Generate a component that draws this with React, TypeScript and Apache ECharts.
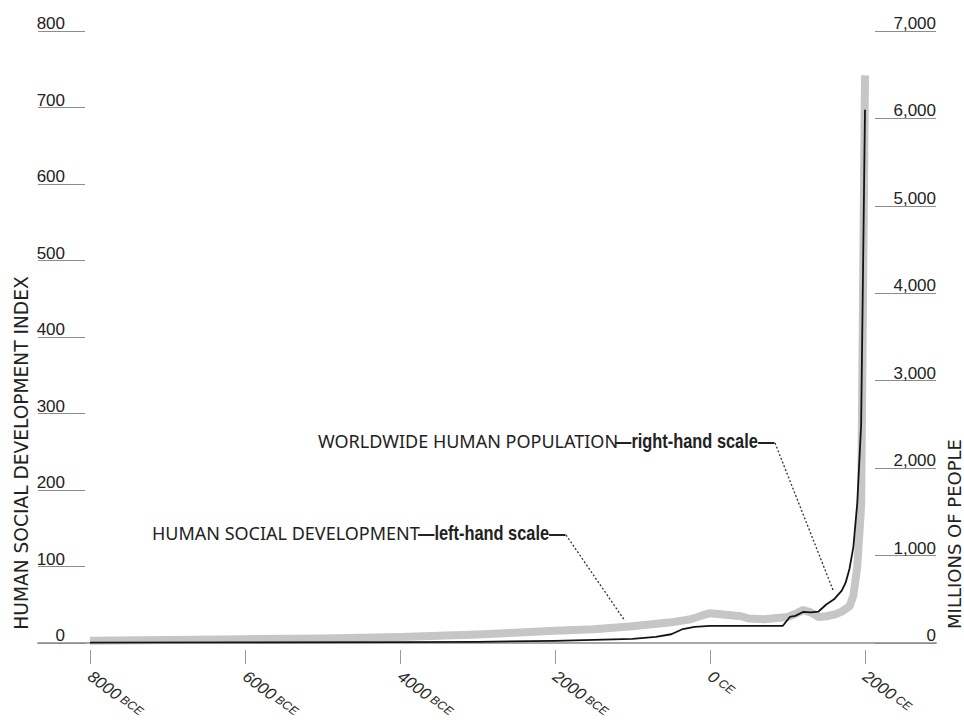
import React, { useEffect, useRef } from "react";
import * as echarts from "echarts";

// X axis: years (negative = BCE)
const xTickYears = [-8000, -6000, -4000, -2000, 0, 2000];
const xAxisMin = -8671;
const xAxisMax = 2916;

// Human social development index (left-hand scale)
const sdYears = [-8000, -7000, -6000, -5000, -4000, -3000, -2000, -1500, -1000, -500, -250, -100, 0, 100, 200, 400, 500, 700, 900, 1000, 1100, 1200, 1300, 1400, 1500, 1600, 1700, 1800, 1850, 1900, 1950, 2000];
const sdValues = [3, 4, 5, 6, 8, 11, 16, 18, 22, 27, 31, 36, 39, 38, 37, 35, 32, 31, 33, 34, 38, 43, 40, 34, 35, 37, 41, 48, 62, 100, 180, 742];

// Worldwide human population, millions (right-hand scale)
const popYears = [-8000, -6000, -4000, -3000, -2000, -1500, -1000, -700, -500, -350, -200, 0, 200, 500, 800, 940, 1030, 1100, 1200, 1300, 1400, 1500, 1600, 1700, 1750, 1800, 1850, 1900, 1950, 2000];
const popValues = [5, 8, 10, 14, 25, 35, 48, 70, 100, 160, 185, 195, 195, 195, 196, 197, 298, 310, 355, 350, 360, 440, 500, 600, 690, 850, 1100, 1600, 2500, 6100];

const leftTitle = "HUMAN SOCIAL DEVELOPMENT INDEX";
const rightTitle = "MILLIONS OF PEOPLE";
const popLabelMain = "WORLDWIDE HUMAN POPULATION";
const popLabelScale = "—right-hand scale—";
const sdLabelMain = "HUMAN SOCIAL DEVELOPMENT";
const sdLabelScale = "—left-hand scale—";

const tickFont = "'Liberation Sans', Arial, sans-serif";

export default function App() {
  const ref = useRef<HTMLDivElement>(null);
  useEffect(() => {
    const chart = echarts.init(ref.current!, null, { renderer: "svg" });
    chart.setOption({
      animation: false,
      backgroundColor: "#ffffff",
      grid: { left: 38, right: 28, top: 31, bottom: 80 },
      xAxis: [
        {
          type: "value",
          min: xAxisMin,
          max: xAxisMax,
          axisLine: { show: true, onZero: false, lineStyle: { color: "#a8a8a8", width: 2 } },
          axisTick: { show: false },
          axisLabel: { show: false },
          splitLine: { show: false },
        },
        {
          type: "value",
          min: xAxisMin,
          max: xAxisMax,
          position: "bottom",
          offset: 7,
          axisLine: { show: false, onZero: false },
          axisTick: { show: true, length: 14, lineStyle: { color: "#9a9a9a", width: 1 }, customValues: xTickYears },
          axisLabel: {
            show: true,
            customValues: xTickYears,
            rotate: -37,
            margin: 24,
            formatter: (v: number) => (v < 0 ? `{n|${-v}} {s|BCE}` : `{n|${v}} {s|CE}`),
            rich: {
              n: { fontFamily: tickFont, fontSize: 16.5, fontStyle: "italic", color: "#2a2a2a" },
              s: { fontFamily: tickFont, fontSize: 12, fontStyle: "italic", color: "#2a2a2a" },
            },
          },
          splitLine: { show: false },
        },
      ],
      yAxis: [
        {
          type: "value",
          position: "left",
          min: 0,
          max: 800,
          interval: 100,
          axisLine: { show: false, onZero: false },
          axisTick: { show: true, inside: true, length: 47, lineStyle: { color: "#8c8c8c", width: 1 } },
          axisLabel: {
            inside: true,
            margin: 27,
            align: "right",
            verticalAlign: "bottom",
            fontFamily: tickFont,
            fontSize: 17,
            lineHeight: 15,
            color: "#222",
          },
          splitLine: { show: false },
        },
        {
          type: "value",
          position: "right",
          min: 0,
          max: 7000,
          interval: 1000,
          axisLine: { show: false, onZero: false },
          axisTick: { show: true, inside: true, length: 61, lineStyle: { color: "#8c8c8c", width: 1 } },
          axisLabel: {
            inside: true,
            margin: 0,
            align: "right",
            verticalAlign: "bottom",
            fontFamily: tickFont,
            fontSize: 17,
            lineHeight: 15,
            color: "#222",
            formatter: (v: number) => v.toLocaleString("en-US"),
          },
          splitLine: { show: false },
        },
      ],
      series: [
        {
          name: "Human social development",
          type: "line",
          xAxisIndex: 0,
          yAxisIndex: 0,
          data: sdYears.map((y, i) => [y, sdValues[i]]),
          symbol: "none",
          lineStyle: { color: "#c6c6c6", width: 8, cap: "butt", join: "round" },
          z: 2,
          silent: true,
        },
        {
          name: "Worldwide human population",
          type: "line",
          xAxisIndex: 0,
          yAxisIndex: 1,
          data: popYears.map((y, i) => [y, popValues[i]]),
          symbol: "none",
          lineStyle: { color: "#141414", width: 1.8, join: "round" },
          z: 3,
          silent: true,
        },
      ],
      graphic: [
        {
          type: "text",
          x: 21,
          y: 453,
          rotation: Math.PI / 2,
          style: { text: leftTitle, fontFamily: "DejaVu Sans", fontSize: 18.6, fill: "#222", align: "center", verticalAlign: "middle" },
        },
        {
          type: "text",
          x: 954,
          y: 534,
          rotation: Math.PI / 2,
          style: { text: rightTitle, fontFamily: "DejaVu Sans", fontSize: 18, fill: "#222", align: "center", verticalAlign: "middle" },
        },
        {
          type: "text",
          x: 318,
          y: 441,
          style: { text: popLabelMain, fontFamily: "Noto Sans", fontSize: 18, fill: "#222", verticalAlign: "middle" },
        },
        {
          type: "text",
          x: 615,
          y: 441,
          scaleX: 0.82,
          style: { text: popLabelScale, fontFamily: "'Liberation Sans', Arial, sans-serif", fontWeight: "bold", fontSize: 20, fill: "#222", verticalAlign: "middle" },
        },
        {
          type: "text",
          x: 152,
          y: 533,
          style: { text: sdLabelMain, fontFamily: "Noto Sans", fontSize: 18, fill: "#222", verticalAlign: "middle" },
        },
        {
          type: "text",
          x: 418,
          y: 533,
          scaleX: 0.82,
          style: { text: sdLabelScale, fontFamily: "'Liberation Sans', Arial, sans-serif", fontWeight: "bold", fontSize: 20, fill: "#222", verticalAlign: "middle" },
        },
        {
          type: "polyline",
          shape: { points: [[775, 443], [833, 590]] },
          style: { stroke: "#333", lineWidth: 1.3, lineDash: [2, 2], fill: null },
        },
        {
          type: "polyline",
          shape: { points: [[566, 535], [625, 621]] },
          style: { stroke: "#333", lineWidth: 1.3, lineDash: [2, 2], fill: null },
        },
      ],
    });
    return () => chart.dispose();
  }, []);
  return <div ref={ref} style={{ position: "absolute", left: 0, top: 0, width: 964, height: 723 }} />;
}
